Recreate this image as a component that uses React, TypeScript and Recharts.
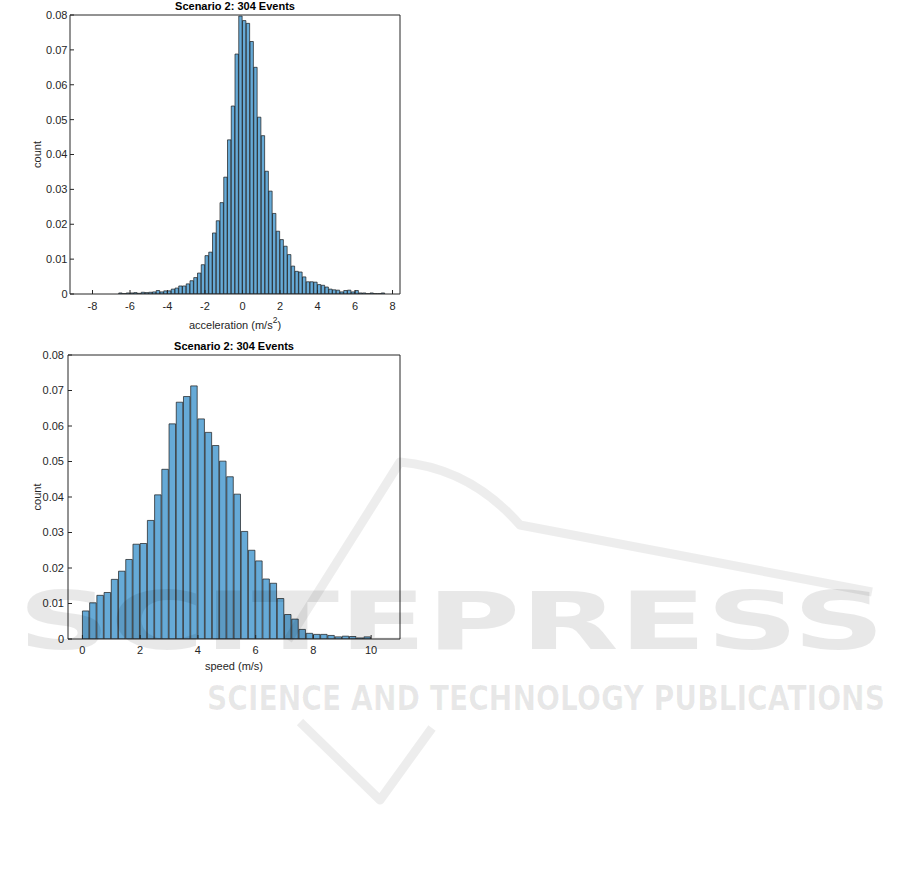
import React from "react";
import { BarChart, Bar, XAxis, YAxis } from "recharts";

// acceleration histogram: bins of 0.2, first non-empty bin starts at -6.6
const accelDomain: [number, number] = [-9.2, 8.4];
const accelBinWidth = 0.2;
const accelFirstEdge = -6.6;
const accelCounts = [
  0.0003, 0.0001, 0.0003, 0.0003, 0.0004, 0.0002, 0.0005, 0.0004, 0.0005, 0.0006,
  0.001, 0.0006, 0.0009, 0.0009, 0.0014, 0.0017, 0.0023, 0.0023, 0.0029, 0.0038,
  0.0047, 0.006, 0.0084, 0.011, 0.012, 0.0175, 0.021, 0.0262, 0.0335, 0.0442,
  0.0539, 0.0688, 0.0797, 0.0784, 0.0776, 0.0724, 0.065, 0.0507, 0.0454, 0.0352,
  0.0295, 0.0231, 0.018, 0.0156, 0.0137, 0.0113, 0.008, 0.0065, 0.0063, 0.0049,
  0.0035, 0.0035, 0.0034, 0.0027, 0.0025, 0.002, 0.0014, 0.0012, 0.0011, 0.0006,
  0.001, 0.0011, 0.0006, 0.001, 0.0003, 0.0003, 0.0001, 0.0003, 0.0001, 0.0001,
  0.0003,
];
const accelTicks = [-8, -6, -4, -2, 0, 2, 4, 6, 8];

// speed histogram: bins of 0.25 from 0 to 10
const speedDomain: [number, number] = [-0.5, 11];
const speedBinWidth = 0.25;
const speedFirstEdge = 0;
const speedCounts = [
  0.0079, 0.0102, 0.0123, 0.0131, 0.0168, 0.0191, 0.0224, 0.0267, 0.0269, 0.0334,
  0.0406, 0.0478, 0.0606, 0.0667, 0.0683, 0.0713, 0.062, 0.0582, 0.0545, 0.0501,
  0.0457, 0.0408, 0.0303, 0.025, 0.022, 0.0169, 0.0157, 0.0114, 0.0069, 0.0056,
  0.0027, 0.0016, 0.0013, 0.0013, 0.001, 0.0006, 0.0008, 0.0007, 0.0003, 0.0006,
];
const speedTicks = [0, 2, 4, 6, 8, 10];

const countTicks = [0, 0.01, 0.02, 0.03, 0.04, 0.05, 0.06, 0.07, 0.08];
const chartTitle = "Scenario 2: 304 Events";

const AXIS = "#262626";
const FONT = "'Liberation Sans', Arial, Helvetica, sans-serif";
const tickStyle = { fill: AXIS, fontSize: 11, fontFamily: FONT };

// one row per bin (centre + count)
function buildBins(width: number, firstEdge: number, counts: number[]) {
  return counts.map((count, i) => ({
    mid: +(firstEdge + (i + 0.5) * width).toFixed(3),
    count,
  }));
}

const fmtCount = (v: number) => (v === 0 ? "0" : v.toFixed(2));

const titleLabel = ({ viewBox }: any) => (
  <text
    x={viewBox.x + viewBox.width / 2}
    y={viewBox.y + viewBox.height - 5.5}
    textAnchor="middle"
    fill="#000"
    fontSize={11}
    fontWeight="bold"
    fontFamily={FONT}
  >
    {chartTitle}
  </text>
);

const countLabel = ({ viewBox }: any) => {
  const x = 40.5;
  const y = viewBox.y + viewBox.height / 2;
  return (
    <text x={x} y={y} transform={`rotate(-90, ${x}, ${y})`} textAnchor="middle" fill={AXIS} fontSize={11} fontFamily={FONT}>
      count
    </text>
  );
};

const accelLabel = ({ viewBox }: any) => (
  <text x={viewBox.x + viewBox.width / 2} y={viewBox.y + 35.3} textAnchor="middle" fill={AXIS} fontSize={11} fontFamily={FONT}>
    acceleration (m/s
    <tspan fontSize={8.5} dy={-6}>
      2
    </tspan>
    <tspan dy={6}>)</tspan>
  </text>
);

const speedLabel = ({ viewBox }: any) => (
  <text x={viewBox.x + viewBox.width / 2} y={viewBox.y + 30.6} textAnchor="middle" fill={AXIS} fontSize={11} fontFamily={FONT}>
    speed (m/s)
  </text>
);

function Histogram(props: {
  rows: { mid: number; count: number }[];
  domain: [number, number];
  binWidth: number;
  xTicks: number[];
  xLabel: any;
  width: number;
  height: number;
  plotTop: number;
  yAxisWidth: number;
  yTickMargin: number;
  xTickMargin: number;
}) {
  const plotRight = 20;
  const plotWidth = props.width - props.yAxisWidth - plotRight;
  const barPx = (plotWidth * props.binWidth) / (props.domain[1] - props.domain[0]);
  return (
    <BarChart
      width={props.width}
      height={props.height}
      data={props.rows}
      margin={{ top: props.plotTop - 1, right: plotRight - 1, bottom: 0, left: 0 }}
      barCategoryGap={0}
      barGap={0}
    >
      <XAxis
        xAxisId="num"
        dataKey="mid"
        type="number"
        domain={props.domain}
        ticks={props.xTicks}
        allowDataOverflow
        interval={0}
        height={41}
        tickSize={-4}
        tickMargin={props.xTickMargin}
        stroke={AXIS}
        tick={tickStyle}
        label={props.xLabel}
      />
      <XAxis
        xAxisId="top"
        dataKey="mid"
        orientation="top"
        type="number"
        domain={props.domain}
        ticks={props.xTicks}
        allowDataOverflow
        interval={0}
        height={1}
        tickSize={-4}
        tick={false}
        stroke={AXIS}
        label={titleLabel}
      />
      <YAxis
        yAxisId="l"
        type="number"
        domain={[0, 0.08]}
        ticks={countTicks}
        allowDataOverflow
        interval={0}
        width={props.yAxisWidth}
        tickSize={-4}
        tickMargin={props.yTickMargin}
        tickFormatter={fmtCount}
        stroke={AXIS}
        tick={tickStyle}
        label={countLabel}
      />
      <YAxis
        yAxisId="r"
        orientation="right"
        type="number"
        domain={[0, 0.08]}
        ticks={countTicks}
        allowDataOverflow
        interval={0}
        width={1}
        tickSize={-4}
        tick={false}
        stroke={AXIS}
      />
      <Bar
        xAxisId="num"
        yAxisId="l"
        dataKey="count"
        fill="#0072BD"
        fillOpacity={0.6}
        stroke="#1a1a1a"
        strokeWidth={0.7}
        barSize={barPx}
        isAnimationActive={false}
      />
    </BarChart>
  );
}

function Watermark() {
  return (
    <svg
      width={901}
      height={884}
      style={{ position: "absolute", left: 0, top: 0, pointerEvents: "none" }}
    >
      <g fill="#000" fillOpacity={0.09} fontFamily="'DejaVu Sans', sans-serif" fontWeight="bold">
        <text x={18} y={649} fontSize={80} textLength={867} lengthAdjust="spacingAndGlyphs">
          SCITEPRESS
        </text>
        <text x={207} y={710} fontSize={33} textLength={678} lengthAdjust="spacingAndGlyphs">
          SCIENCE AND TECHNOLOGY PUBLICATIONS
        </text>
      </g>
      <g fill="none" stroke="#000" strokeOpacity={0.07} strokeWidth={9} strokeLinejoin="round">
        <path d="M 288 640 L 400 462 Q 470 468 520 525 L 872 592" />
        <path d="M 300 722 L 380 800 L 432 728" />
      </g>
    </svg>
  );
}

export default function App() {
  const accelRows = buildBins(accelBinWidth, accelFirstEdge, accelCounts);
  const speedRows = buildBins(speedBinWidth, speedFirstEdge, speedCounts);
  return (
    <div style={{ position: "absolute", left: 0, top: 0, width: 901, height: 884, background: "#fff", fontFamily: FONT }}>
      <div style={{ position: "absolute", left: 0, top: 0 }}>
        <Histogram
          rows={accelRows}
          domain={accelDomain}
          binWidth={accelBinWidth}
          xTicks={accelTicks}
          xLabel={accelLabel}
          width={420}
          height={335}
          plotTop={15}
          yAxisWidth={70}
          yTickMargin={6.5}
          xTickMargin={12.5}
        />
      </div>
      <div style={{ position: "absolute", left: 0, top: 335 }}>
        <Histogram
          rows={speedRows}
          domain={speedDomain}
          binWidth={speedBinWidth}
          xTicks={speedTicks}
          xLabel={speedLabel}
          width={420}
          height={345}
          plotTop={20}
          yAxisWidth={68}
          yTickMargin={8}
          xTickMargin={11.4}
        />
      </div>
      <Watermark />
    </div>
  );
}
